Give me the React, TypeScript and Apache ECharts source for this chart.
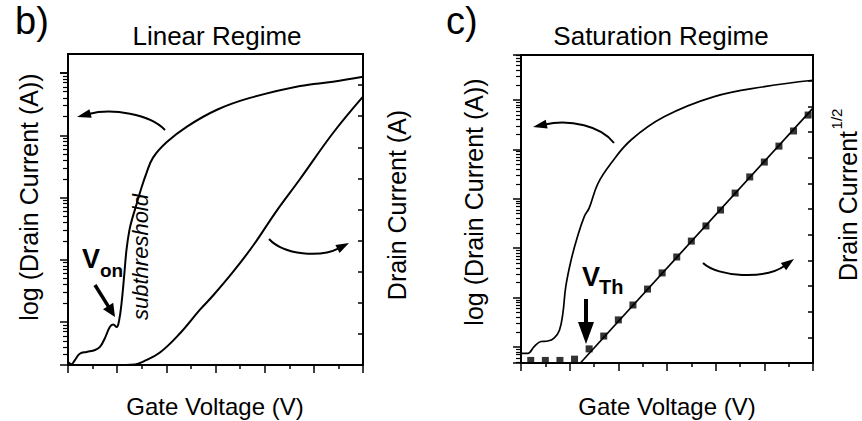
import React, { useEffect, useRef } from 'react';
import * as echarts from 'echarts';

// ---------- data (b: linear regime) ----------
const bLogVg = [0.00, 0.07, 0.14, 0.24, 0.38, 0.55, 0.65, 0.75, 0.85, 0.92, 0.99, 1.04, 1.09, 1.14, 1.19, 1.25, 1.31, 1.39, 1.48, 1.59, 1.73, 2.01, 2.42, 3.03, 3.70, 4.72, 5.39, 6.00];
const bLogId = [2.29e-11, 2.09e-11, 2.45e-11, 3.09e-11, 3.31e-11, 3.55e-11, 3.98e-11, 5.5e-11, 8.32e-11, 9.1e-11, 8.32e-11, 1.07e-10, 2.04e-10, 5.25e-10, 1.45e-9, 3.02e-9, 4.68e-9, 7.59e-9, 1.32e-8, 2.40e-8, 4.37e-8, 7.76e-8, 1.38e-7, 2.57e-7, 3.98e-7, 6.17e-7, 7.24e-7, 8.71e-7];
const bLinVg = [0.95, 1.36, 1.53, 1.87, 2.28, 2.68, 2.96, 3.36, 3.77, 4.24, 4.72, 5.39, 6.00];
const bLinId = [0, 0.02, 0.11, 0.40, 1.02, 1.77, 2.25, 3.0, 3.85, 4.95, 5.98, 7.46, 8.63];

// ---------- data (c: saturation regime) ----------
const cLogVg = [0.00, 0.14, 0.27, 0.41, 0.55, 0.68, 0.79, 0.86, 0.92, 1.03, 1.16, 1.30, 1.40, 1.58, 1.85, 2.26, 2.94, 3.97, 5.00, 6.00];
const cLogId = [7.41e-13, 7.41e-13, 1.02e-12, 1.29e-12, 1.32e-12, 1.51e-12, 2.19e-12, 4.79e-12, 1.66e-11, 5.75e-11, 1.70e-10, 4.37e-10, 6.46e-10, 2.04e-9, 5.25e-9, 1.55e-8, 4.57e-8, 1.17e-7, 1.86e-7, 2.51e-7];
const cSqrtVg = [0.2, 0.5, 0.8, 1.1, 1.4, 1.7, 2.0, 2.3, 2.6, 2.9, 3.2, 3.5, 3.8, 4.1, 4.4, 4.7, 5.0, 5.3, 5.6, 5.9];
const cSqrtId = [0.1, 0.1, 0.1, 0.15, 0.55, 1.05, 1.68, 2.26, 2.88, 3.51, 4.13, 4.75, 5.34, 5.96, 6.62, 7.25, 7.83, 8.45, 9.04, 9.66];
const cFitVg = [1.22, 6.0];
const cFitId = [0, 9.93];

// ---------- axis ranges ----------
const gateRange = [0, 6];
const bLogRange = [2.04e-11, 1e-6];
const bLinRange = [0, 10];
const cLogRange = [4.74e-13, 8.15e-7];
const cSqrtRange = [0, 12];

// ---------- texts ----------
const panelLabels = ['b)', 'c)'];
const titles = ['Linear Regime', 'Saturation Regime'];
const xName = 'Gate Voltage (V)';
const yLogName = 'log (Drain Current (A))';
const yLinName = 'Drain Current (A)';
const ySqrtName = 'Drain Current';

const FF = '"Liberation Sans", Arial, sans-serif';
const K = '#000';

const pairs = (xs: number[], ys: number[]) => xs.map((x, i) => [x, ys[i]]);

function txt(text: string, x: number, y: number, size: number, opts: any = {}) {
  return {
    type: 'text',
    x,
    y,
    rotation: opts.rotation || 0,
    z: 10,
    style: {
      text,
      fill: K,
      fontSize: size,
      fontFamily: FF,
      fontWeight: opts.weight || 'normal',
      fontStyle: opts.style || 'normal',
      align: opts.align || 'center',
      verticalAlign: 'middle',
    },
  };
}

function curvedArrow(p0: number[], c1: number[], c2: number[], tip: number[], headLen: number, halfW: number, lw = 2) {
  const dx = tip[0] - c2[0];
  const dy = tip[1] - c2[1];
  const n = Math.hypot(dx, dy);
  const ux = dx / n;
  const uy = dy / n;
  const bx = tip[0] - ux * headLen;
  const by = tip[1] - uy * headLen;
  return [
    {
      type: 'bezierCurve',
      z: 10,
      shape: { x1: p0[0], y1: p0[1], cpx1: c1[0], cpy1: c1[1], cpx2: c2[0], cpy2: c2[1], x2: bx + ux * 2, y2: by + uy * 2 },
      style: { stroke: K, lineWidth: lw, fill: null },
    },
    {
      type: 'polygon',
      z: 10,
      shape: { points: [[tip[0], tip[1]], [bx - uy * halfW, by + ux * halfW], [bx + uy * halfW, by - ux * halfW]] },
      style: { fill: K, stroke: null },
    },
  ];
}

function straightArrow(from: number[], tip: number[], headLen: number, halfW: number, lw: number) {
  const dx = tip[0] - from[0];
  const dy = tip[1] - from[1];
  const n = Math.hypot(dx, dy);
  const ux = dx / n;
  const uy = dy / n;
  const bx = tip[0] - ux * headLen;
  const by = tip[1] - uy * headLen;
  return [
    { type: 'line', z: 10, shape: { x1: from[0], y1: from[1], x2: bx + ux, y2: by + uy }, style: { stroke: K, lineWidth: lw } },
    {
      type: 'polygon',
      z: 10,
      shape: { points: [[tip[0], tip[1]], [bx - uy * halfW, by + ux * halfW], [bx + uy * halfW, by - ux * halfW]] },
      style: { fill: K, stroke: null },
    },
  ];
}

export default function App() {
  const ref = useRef<HTMLDivElement>(null);

  useEffect(() => {
    const chart = echarts.init(ref.current as HTMLDivElement, null, { renderer: 'svg' });

    const tickLine = { color: K, width: 1.5 };
    const xAxisFor = (gridIndex: number, show = true) => ({
      type: 'value',
      gridIndex,
      show,
      min: gateRange[0],
      max: gateRange[1],
      interval: 1,
      axisLine: { show: true, onZero: false, lineStyle: { color: K, width: 2 } },
      axisTick: { show: true, inside: false, length: 8, lineStyle: tickLine },
      minorTick: { show: true, splitNumber: 2, length: 4, lineStyle: tickLine },
      axisLabel: { show: false },
      splitLine: { show: false },
      minorSplitLine: { show: false },
    });
    const logAxis = (gridIndex: number, range: number[]) => ({
      type: 'log',
      logBase: 10,
      gridIndex,
      position: 'left',
      min: range[0],
      max: range[1],
      axisLine: { show: false },
      axisTick: { show: true, inside: false, length: 8, lineStyle: tickLine },
      minorTick: { show: true, splitNumber: 9, length: 5, lineStyle: { color: K, width: 1.2 } },
      axisLabel: { show: false },
      splitLine: { show: false },
      minorSplitLine: { show: false },
    });
    const linAxis = (gridIndex: number, range: number[]) => ({
      type: 'value',
      gridIndex,
      position: 'right',
      min: range[0],
      max: range[1],
      interval: 1,
      axisLine: { show: true, onZero: false, lineStyle: { color: K, width: 2 } },
      axisTick: { show: true, inside: true, length: 5, lineStyle: tickLine },
      axisLabel: { show: false },
      splitLine: { show: false },
    });

    const gridFrame = { show: true, borderColor: K, borderWidth: 2, backgroundColor: 'transparent', outerBoundsMode: 'none', containLabel: false };

    const graphic: any[] = [
      txt(panelLabels[0], 15, 21, 38, { align: 'left' }),
      txt(panelLabels[1], 446, 21, 38, { align: 'left' }),
      txt(titles[0], 217, 36, 26),
      txt(titles[1], 661, 36, 26),
      txt(xName, 215, 406, 24),
      txt(xName, 667, 406, 24),
      txt(yLogName, 29, 197, 25, { rotation: Math.PI / 2 }),
      txt(yLinName, 397, 205, 25, { rotation: Math.PI / 2 }),
      txt(yLogName, 474, 202, 25, { rotation: Math.PI / 2 }),
      txt(ySqrtName, 848, 206, 25, { rotation: Math.PI / 2 }),
      txt('1/2', 836, 119, 15, { rotation: Math.PI / 2 }),
      txt('subthreshold', 140, 257, 22, { rotation: Math.PI / 2, style: 'italic' }),
      txt('V', 91, 259, 27, { weight: 'bold' }),
      txt('on', 100, 270, 19, { weight: 'bold', align: 'left' }),
      txt('V', 591, 277, 27, { weight: 'bold' }),
      txt('Th', 599, 287, 20, { weight: 'bold', align: 'left' }),
      ...curvedArrow([165, 130], [150, 114], [112, 108], [77, 117], 14, 4.5),
      ...curvedArrow([269, 239], [284, 255], [320, 258], [349, 243], 13, 4.5),
      ...curvedArrow([614, 143], [601, 126], [570, 119], [533, 127], 14, 4.5),
      ...curvedArrow([703, 263], [718, 277], [765, 280], [794, 259], 13, 4.5),
      ...straightArrow([95, 285], [115, 317], 13, 6, 3.5),
      ...straightArrow([586, 299], [586, 344], 22, 8, 4),
    ];

    chart.setOption({
      animation: false,
      backgroundColor: '#fff',
      grid: [
        { left: 68, top: 54, width: 295, height: 311, ...gridFrame },
        { left: 68, top: 73, width: 295, height: 292, show: false, outerBoundsMode: 'none', containLabel: false },
        { left: 521, top: 55, width: 292, height: 308, ...gridFrame },
      ],
      xAxis: [xAxisFor(0), { ...xAxisFor(1), show: false }, xAxisFor(2)],
      yAxis: [linAxis(0, bLinRange), logAxis(1, bLogRange), logAxis(2, cLogRange), linAxis(2, cSqrtRange)],
      series: [
        {
          type: 'line',
          xAxisIndex: 1,
          yAxisIndex: 1,
          data: pairs(bLogVg, bLogId),
          showSymbol: false,
          smooth: 0.4,
          clip: false,
          lineStyle: { color: K, width: 2 },
        },
        {
          type: 'line',
          xAxisIndex: 0,
          yAxisIndex: 0,
          data: pairs(bLinVg, bLinId),
          showSymbol: false,
          smooth: 0.4,
          lineStyle: { color: K, width: 2 },
        },
        {
          type: 'line',
          xAxisIndex: 2,
          yAxisIndex: 2,
          data: pairs(cLogVg, cLogId),
          showSymbol: false,
          smooth: 0.4,
          clip: false,
          lineStyle: { color: K, width: 1.7 },
        },
        {
          type: 'line',
          xAxisIndex: 2,
          yAxisIndex: 3,
          data: pairs(cFitVg, cFitId),
          showSymbol: false,
          lineStyle: { color: K, width: 1.7 },
        },
        {
          type: 'scatter',
          xAxisIndex: 2,
          yAxisIndex: 3,
          data: pairs(cSqrtVg, cSqrtId),
          symbol: 'rect',
          symbolSize: 7,
          itemStyle: { color: K },
          clip: false,
        },
      ],
      graphic,
    } as any);

    return () => chart.dispose();
  }, []);

  return <div ref={ref} style={{ position: 'absolute', left: 0, top: 0, width: 862, height: 421 }} />;
}
